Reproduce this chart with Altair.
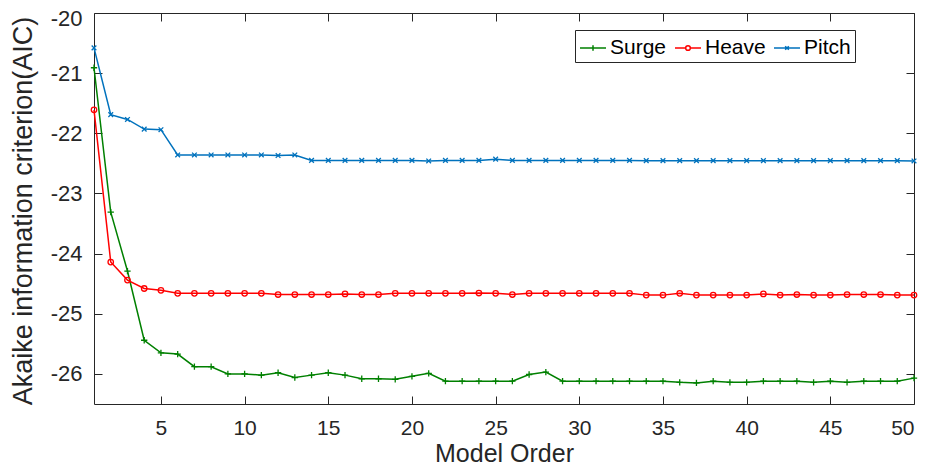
import altair as alt
import pandas as pd

orders = list(range(1, 51))

surge = [-20.91, -23.31, -24.29, -25.44, -25.65, -25.67, -25.88, -25.88, -26.00, -26.00,
         -26.02, -25.98, -26.06, -26.02, -25.98, -26.02, -26.08, -26.08, -26.09, -26.04,
         -25.99, -26.12, -26.12, -26.12, -26.12, -26.12, -26.01, -25.97, -26.12, -26.12,
         -26.12, -26.12, -26.12, -26.12, -26.12, -26.14, -26.15, -26.12, -26.14, -26.14,
         -26.12, -26.12, -26.12, -26.14, -26.12, -26.14, -26.12, -26.12, -26.12, -26.07]

heave = [-21.61, -24.14, -24.44, -24.58, -24.61, -24.66, -24.66, -24.66, -24.66, -24.66,
         -24.66, -24.68, -24.68, -24.68, -24.68, -24.67, -24.68, -24.68, -24.66, -24.66,
         -24.66, -24.66, -24.66, -24.655, -24.66, -24.68, -24.66, -24.66, -24.66, -24.66,
         -24.66, -24.66, -24.66, -24.69, -24.69, -24.66, -24.69, -24.69, -24.69, -24.69,
         -24.67, -24.69, -24.68, -24.69, -24.69, -24.68, -24.68, -24.68, -24.69, -24.69]

pitch = [-20.58, -21.69, -21.77, -21.93, -21.94, -22.36, -22.36, -22.36, -22.36, -22.36,
         -22.36, -22.37, -22.36, -22.45, -22.45, -22.45, -22.45, -22.45, -22.45, -22.45,
         -22.46, -22.45, -22.45, -22.45, -22.43, -22.45, -22.45, -22.45, -22.45, -22.45,
         -22.45, -22.45, -22.45, -22.455, -22.455, -22.455, -22.455, -22.455, -22.455, -22.455,
         -22.455, -22.455, -22.455, -22.455, -22.455, -22.455, -22.455, -22.455, -22.455, -22.46]

series_names = ["Surge", "Heave", "Pitch"]
series_colors = ["#008000", "#ff0000", "#0072bd"]
x_ticks = [5, 10, 15, 20, 25, 30, 35, 40, 45, 50]
y_ticks = [-26, -25, -24, -23, -22, -21, -20]

rows = []
for name, vals in zip(series_names, [surge, heave, pitch]):
    for o, v in zip(orders, vals):
        rows.append({"order": o, "aic": v, "series": name})
df = pd.DataFrame(rows)

W, H = 820, 391
FONT = "Liberation Sans"
AX = "#262626"

xscale = alt.Scale(domain=[1, 50], nice=False, zero=False)
yscale = alt.Scale(domain=[-26.5, -20], nice=False, zero=False)
cscale = alt.Scale(domain=series_names, range=series_colors)

main_x = alt.Axis(values=x_ticks, ticks=False, tickSize=0, domain=False, grid=False,
                  labelFont=FONT, labelFontSize=21, labelColor=AX, labelPadding=13,
                  title="Model Order", titleFont=FONT, titleFontSize=25, titleFontWeight="normal",
                  titleColor=AX, titleBaseline="alphabetic", titleY=57, titleX=W / 2)
main_y = alt.Axis(values=y_ticks, ticks=False, tickSize=0, domain=False, grid=False,
                  labelFont=FONT, labelFontSize=22, labelColor=AX, labelPadding=12,
                  labelExpr="datum.value + ''",
                  labelOffset={"condition": {"test": "datum.value === -20", "value": 5}, "value": 0},
                  title="Akaike information criterion(AIC)", titleFont=FONT, titleFontSize=27,
                  titleFontWeight="normal", titleColor=AX, titleAngle=270,
                  titleBaseline="alphabetic", titleAlign="center", titleX=-63, titleY=H / 2 + 2)


def tick_axis(vals, orient, offset):
    return alt.Axis(values=vals, orient=orient, offset=offset, labels=False, domain=False,
                    grid=False, ticks=True, tickSize=8, tickColor=AX, tickWidth=1, title=None)


legend_def = alt.Legend(orient="none", legendX=481, legendY=17, direction="horizontal", title=None)

base = alt.Chart(df)

lines = base.mark_line(strokeWidth=1.5).encode(
    x=alt.X("order:Q", scale=xscale, axis=main_x),
    y=alt.Y("aic:Q", scale=yscale, axis=main_y),
    color=alt.Color("series:N", scale=cscale, title=None, legend=legend_def),
)

ticks_in_a = base.mark_point(size=0, opacity=0).encode(
    x=alt.X("order:Q", scale=xscale, axis=tick_axis(x_ticks, "top", -H)),
    y=alt.Y("aic:Q", scale=yscale, axis=tick_axis(y_ticks, "right", -W)),
)
ticks_in_b = base.mark_point(size=0, opacity=0).encode(
    x=alt.X("order:Q", scale=xscale, axis=tick_axis(x_ticks, "bottom", -H)),
    y=alt.Y("aic:Q", scale=yscale, axis=tick_axis(y_ticks, "left", -W)),
)

plus_path = "M-1,0H1M0,-1V1"
x_path = "M-1,-1L1,1M-1,1L1,-1"

marker_layers = []
for name, shape, size in [("Surge", plus_path, 40), ("Heave", "circle", 30), ("Pitch", x_path, 22)]:
    marker_layers.append(
        base.transform_filter(alt.datum.series == name)
        .mark_point(shape=shape, size=size, filled=False, strokeWidth=1.3, opacity=1)
        .encode(
            x=alt.X("order:Q", scale=xscale, axis=None),
            y=alt.Y("aic:Q", scale=yscale, axis=None),
            color=alt.Color("series:N", scale=cscale, title=None, legend=legend_def),
        )
    )

legend_shapes = [
    "M-1,0H1M0,-0.22V0.22",
    "M-1,0H-0.18M0.18,0H1M-0.18,0A0.18,0.18 0 1,0 0.18,0A0.18,0.18 0 1,0 -0.18,0",
    "M-1,0H1M-0.14,-0.14L0.14,0.14M-0.14,0.14L0.14,-0.14",
]

legend_layer = base.mark_point(size=0, filled=False).encode(
    x=alt.X("order:Q", scale=xscale, axis=None),
    y=alt.Y("aic:Q", scale=yscale, axis=None),
    color=alt.Color("series:N", scale=cscale, title=None, legend=legend_def),
    shape=alt.Shape("series:N", scale=alt.Scale(domain=series_names, range=legend_shapes),
                    title=None, legend=legend_def),
)

chart = alt.layer(lines, *marker_layers, ticks_in_a, ticks_in_b, legend_layer).resolve_axis(
    x="independent", y="independent"
).properties(
    width=W, height=H, autosize=alt.AutoSizeParams(type="none"),
    padding={"left": 86, "top": 5, "right": 9, "bottom": 62},
    background="white",
).configure_view(
    stroke=AX, strokeWidth=1,
).configure_legend(
    symbolSize=676, symbolStrokeWidth=1.5, symbolOpacity=1, symbolFillColor="transparent",
    labelFont=FONT, labelFontSize=21, labelColor="#000000", labelOffset=3,
    columnPadding=5, padding=4, strokeColor=AX, strokeWidth=1, fillColor="white",
    cornerRadius=0,
)

chart.save("out.html", embed_options={"renderer": "svg", "actions": False})
